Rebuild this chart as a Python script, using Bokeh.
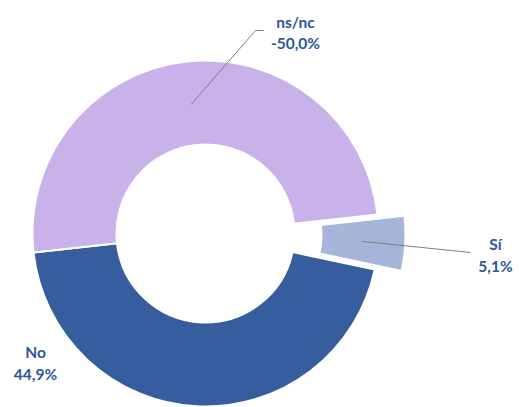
import math
from bokeh.plotting import figure
from bokeh.models import Range1d, ColumnDataSource
from bokeh.core.properties import value
from bokeh.embed import file_html
from bokeh.resources import INLINE

# ---- data ----
categories = ["Sí", "No", "ns/nc"]
values = [5.1, 44.9, 50.0]
value_labels = ["5,1%", "44,9%", "-50,0%"]
colors = ["#A6B5DA", "#365E9F", "#C9B1E9"]

W, H = 519, 407
p = figure(width=W, height=H, output_backend="svg", toolbar_location=None,
           x_range=Range1d(0, W), y_range=Range1d(0, H), min_border=0,
           outline_line_color=None)
p.axis.visible = False
p.grid.visible = False
p.background_fill_color = "white"

def to_data(px, py):
    return px, H - py

cx, cy = to_data(205, 233)
R_OUT, R_IN = 173, 89
start = math.radians(6.3)
explode = {"Sí": 27}

total = sum(values)
a = start
xs, ys, sa, ea, mids = [], [], [], [], []
for c, v in zip(categories, values):
    span = v / total * 2 * math.pi
    s, e = a, a - span
    mid = (s + e) / 2
    off = explode.get(c, 0)
    xs.append(cx + off * math.cos(mid))
    ys.append(cy + off * math.sin(mid))
    sa.append(s); ea.append(e); mids.append(mid)
    a = e

src = ColumnDataSource(dict(x=xs, y=ys, start=sa, end=ea, color=colors))
p.annular_wedge(x="x", y="y", inner_radius=R_IN, outer_radius=R_OUT,
                start_angle="start", end_angle="end", direction="clock",
                inner_radius_units="screen", outer_radius_units="screen",
                fill_color="color", line_color="white", line_width=2, source=src)

# leader lines
r_anchor = 130
lead_color = "#7F7F7F"
i = categories.index("ns/nc")
ax, ay = xs[i] + r_anchor * math.cos(mids[i]), ys[i] + r_anchor * math.sin(mids[i])
bx, by = to_data(255, 30)
ex, ey = to_data(263, 30)
p.line([ax, bx, ex], [ay, by, ey], line_color=lead_color, line_width=1)
i = categories.index("Sí")
ax, ay = xs[i] + r_anchor * math.cos(mids[i]), ys[i] + r_anchor * math.sin(mids[i])
bx, by = to_data(470, 252)
p.line([ax, bx], [ay, by], line_color=lead_color, line_width=1)

# labels
label_pos = {"ns/nc": (295, 21, 42), "Sí": (495, 243, 265), "No": (35, 351, 373)}
tx, ty, tt = [], [], []
for c, lab in zip(categories, value_labels):
    px, py1, py2 = label_pos[c]
    x1, y1 = to_data(px, py1)
    x2, y2 = to_data(px, py2)
    tx += [x1, x2]; ty += [y1, y2]; tt += [c, lab]
p.text(x=tx, y=ty, text=tt, text_align="center", text_baseline="middle",
       text_font=value("Lato"), text_font_style="bold", text_font_size="15.5px",
       text_color="#2F5597")

open("out.html", "w").write(file_html(p, INLINE))
